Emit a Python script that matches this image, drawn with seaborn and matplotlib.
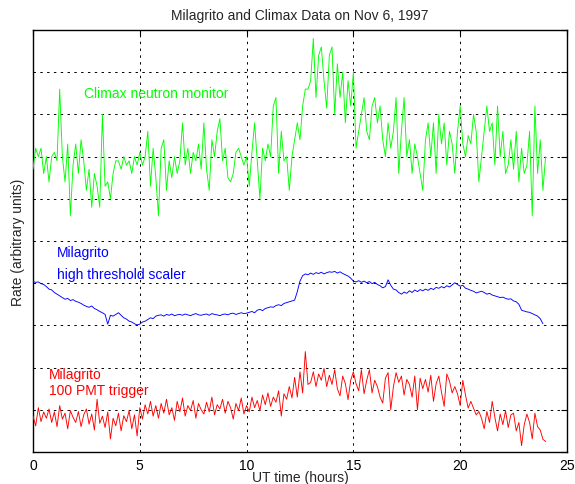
"""
Milagrito and Climax count rates on 1997-11-06, redrawn from the published figure.
Values are read off the original plot, in arbitrary stacked units (axis 0..10).
"""

import numpy as np
import pandas as pd
import matplotlib
matplotlib.use("Agg")
import matplotlib.pyplot as plt
import seaborn as sns

# ---- Data (sampled every 7.5 minutes) --------------------------------------

step_hr = 0.125

climax = [
    6.7, 7.2, 7.0, 7.2, 6.6, 7.0, 6.4, 7.0,
    7.1, 6.9, 8.6, 7.0, 6.4, 7.3, 5.6, 6.8,
    7.3, 6.6, 7.4, 6.9, 6.2, 6.7, 5.8, 6.6,
    6.3, 5.8, 8.0, 6.3, 6.4, 6.0, 6.6, 6.9,
    6.9, 6.7, 7.0, 6.8, 6.9, 6.6, 7.0, 6.8,
    7.1, 6.8, 7.0, 7.6, 6.3, 7.2, 6.5, 5.6,
    7.2, 7.4, 6.2, 6.9, 6.5, 7.0, 6.6, 6.9,
    7.8, 6.8, 7.2, 6.6, 7.1, 6.9, 7.3, 6.7,
    7.8, 6.7, 6.2, 7.4, 7.0, 7.6, 7.9, 6.9,
    7.2, 6.5, 6.4, 6.6, 7.1, 7.2, 7.0, 6.8,
    7.0, 6.3, 7.1, 7.8, 6.9, 6.0, 7.2, 6.9,
    7.3, 7.0, 8.2, 8.4, 6.6, 7.6, 6.9, 7.0,
    6.2, 7.0, 7.4, 7.8, 7.4, 8.2, 8.6, 8.6,
    8.8, 9.8, 8.4, 9.4, 9.6, 8.8, 8.15, 9.4,
    9.6, 8.0, 9.2, 8.4, 9.0, 7.8, 8.8, 8.2,
    9.0, 7.2, 7.6, 8.0, 8.4, 7.6, 7.4, 8.2,
    8.4, 7.8, 8.2, 7.4, 7.0, 7.8, 7.2, 7.6,
    8.4, 6.6, 7.6, 8.4, 7.0, 7.4, 6.6, 7.3,
    7.0, 6.6, 6.2, 7.4, 7.8, 7.0, 7.8, 6.6,
    8.0, 7.3, 7.8, 6.8, 7.6, 7.3, 6.6, 7.6,
    8.2, 7.3, 7.0, 7.5, 7.3, 8.0, 7.6, 6.4,
    7.0, 7.6, 8.2, 7.6, 7.8, 6.8, 8.2, 7.0,
    7.6, 6.6, 6.8, 7.4, 6.7, 7.6, 6.4, 7.2,
    6.6, 6.8, 7.6, 5.6, 8.2, 6.6, 7.4, 6.2,
    7.0,
]

scaler = [
    4.04, 4.02, 4.03, 3.99, 3.97, 3.92, 3.86, 3.84,
    3.78, 3.74, 3.70, 3.66, 3.62, 3.64, 3.59, 3.61,
    3.57, 3.55, 3.52, 3.48, 3.45, 3.43, 3.46, 3.40,
    3.37, 3.33, 3.30, 3.26, 3.03, 3.24, 3.22, 3.26,
    3.30, 3.24, 3.18, 3.15, 3.10, 3.08, 3.04, 3.01,
    3.03, 3.08, 3.10, 3.14, 3.18, 3.16, 3.22, 3.24,
    3.25, 3.22, 3.26, 3.24, 3.27, 3.23, 3.25, 3.26,
    3.24, 3.27, 3.25, 3.23, 3.26, 3.28, 3.25, 3.24,
    3.26, 3.27, 3.24, 3.28, 3.26, 3.25, 3.23, 3.26,
    3.27, 3.25, 3.28, 3.29, 3.26, 3.28, 3.30, 3.28,
    3.29, 3.31, 3.33, 3.30, 3.36, 3.38, 3.35, 3.40,
    3.42, 3.44, 3.43, 3.47, 3.49, 3.47, 3.52, 3.54,
    3.56, 3.58, 3.60, 3.80, 4.05, 4.18, 4.22, 4.20,
    4.24, 4.21, 4.25, 4.23, 4.26, 4.22, 4.25, 4.27,
    4.26, 4.28, 4.24, 4.27, 4.23, 4.20, 4.17, 4.12,
    4.05, 4.03, 4.06, 4.02, 4.05, 4.01, 4.04, 3.99,
    4.02, 3.97, 3.94, 3.89, 3.92, 4.08, 3.95, 3.86,
    3.84, 3.78, 3.74, 3.79, 3.76, 3.82, 3.78, 3.84,
    3.80, 3.85, 3.82, 3.86, 3.83, 3.88, 3.85, 3.90,
    3.88, 3.92, 3.89, 3.94, 3.91, 3.96, 4.01, 3.97,
    3.93, 3.95, 3.88, 3.86, 3.83, 3.81, 3.77, 3.79,
    3.81, 3.78, 3.74, 3.76, 3.72, 3.70, 3.68, 3.66,
    3.67, 3.64, 3.62, 3.63, 3.58, 3.56, 3.50, 3.36,
    3.34, 3.32, 3.31, 3.28, 3.25, 3.22, 3.16, 3.04,
]

trigger = [
    0.85, 0.62, 1.05, 0.72, 0.95, 0.80, 1.02, 0.70,
    0.95, 0.60, 1.10, 0.78, 0.92, 0.55, 0.98, 0.82,
    0.70, 0.96, 0.60, 0.88, 1.02, 0.66, 0.90, 0.52,
    1.25, 0.68, 0.85, 0.58, 0.95, 0.31, 0.80, 0.62,
    0.92, 0.50, 0.86, 0.72, 0.98, 0.55, 0.88, 0.38,
    1.05, 0.78, 1.12, 0.90, 1.20, 0.85, 1.10, 0.80,
    1.15, 0.92, 1.25, 0.88, 1.05, 0.75, 1.20, 0.95,
    1.28, 0.85, 1.10, 0.98, 1.22, 0.80, 1.15, 1.00,
    0.90, 1.18, 0.95, 1.30, 0.88, 1.12, 1.02, 1.25,
    0.92, 1.20, 1.05, 0.78, 1.15, 0.98, 1.28, 0.90,
    1.10, 0.95, 1.30, 1.05, 1.22, 0.98, 1.35, 1.12,
    1.40, 1.08, 1.30, 1.18, 1.45, 0.85, 1.38, 1.25,
    1.55, 1.28, 1.77, 1.30, 1.90, 1.40, 2.38, 1.60,
    1.65, 1.90, 1.55, 1.85, 1.70, 1.98, 1.55, 1.82,
    1.60, 1.95, 1.50, 1.33, 1.80, 1.62, 1.24, 1.70,
    1.90, 1.62, 1.45, 1.95, 1.38, 1.70, 1.95, 1.40,
    1.70, 1.55, 1.30, 1.16, 1.75, 1.88, 1.00, 1.55,
    1.88, 1.65, 1.80, 1.35, 1.72, 1.60, 1.30, 1.80,
    1.00, 1.75, 1.50, 1.72, 1.42, 1.82, 1.20, 1.62,
    1.80, 1.42, 1.08, 1.85, 1.68, 1.40, 1.55, 1.38,
    1.10, 1.70, 1.35, 1.04, 1.20, 1.04, 0.88, 0.96,
    0.80, 0.55, 0.96, 0.70, 1.20, 0.82, 0.50, 0.90,
    0.65, 0.98, 0.58, 0.88, 0.92, 0.50, 0.70, 0.15,
    0.65, 0.90, 0.70, 0.31, 0.92, 0.60, 0.52, 0.30,
    0.25,
]

series = [
    ("Climax neutron monitor", climax, "#00ff00"),
    ("Milagrito high threshold scaler", scaler, "#0000ff"),
    ("Milagrito 100 PMT trigger", trigger, "#ff0000"),
]

# ---- Plot -------------------------------------------------------------------

sns.set_style("white")
plt.rcParams["font.family"] = ["Liberation Sans", "DejaVu Sans"]
plt.rcParams["font.size"] = 10

fig = plt.figure(figsize=(5.75, 4.85), dpi=100)
ax = fig.add_axes([0.0574, 0.066, 0.9286, 0.870])

for name, values, colour in series:
    df = pd.DataFrame({"hours": np.arange(len(values)) * step_hr, "rate": values})
    sns.lineplot(data=df, x="hours", y="rate", ax=ax, color=colour,
                 linewidth=0.65, estimator=None, sort=False, zorder=3)

ax.set_xlim(0, 25)
ax.set_ylim(0, 10)
ax.set_xticks(range(0, 26, 5))
ax.set_yticks(range(0, 11))
ax.tick_params(direction="in", top=True, right=True, length=4, width=0.8,
               labelleft=False, labelsize=10, pad=4, colors="black")
ax.grid(True, color="black", linestyle=(0, (2.5, 4.5)), linewidth=0.7)
for spine in ax.spines.values():
    spine.set_color("black")
    spine.set_linewidth(1.0)

ax.set_title("Milagrito and Climax Data on Nov 6, 1997", fontsize=10, pad=8)
ax.set_xlabel("UT time (hours)", fontsize=10, labelpad=-1)
ax.set_ylabel("Rate (arbitrary units)", fontsize=10, labelpad=6)

ax.text(2.39, 8.5, "Climax neutron monitor", color="#00ff00", va="center", fontsize=10)
ax.text(1.14, 4.75, "Milagrito", color="#0000ff", va="center", fontsize=10)
ax.text(1.14, 4.23, "high threshold scaler", color="#0000ff", va="center", fontsize=10)
ax.text(0.76, 1.85, "Milagrito", color="#ff0000", va="center", fontsize=10)
ax.text(0.76, 1.48, "100 PMT trigger", color="#ff0000", va="center", fontsize=10)

fig.savefig("out.png", dpi=100)
